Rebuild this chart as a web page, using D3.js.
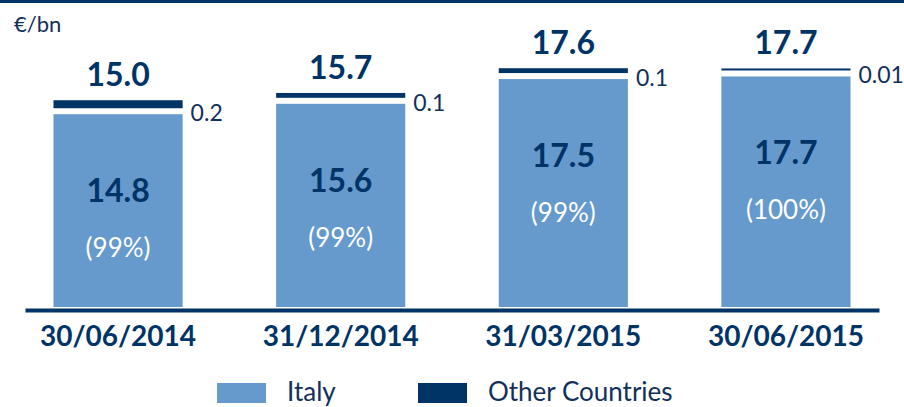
<!DOCTYPE html>
<html>
<head>
<meta charset="utf-8">
<script src="https://cdn.jsdelivr.net/npm/d3@7/dist/d3.min.js"></script>
<style>
  html, body { margin: 0; padding: 0; background: #fff; }
  svg { display: block; font-family: Lato, "Open Sans", "Noto Sans", sans-serif; }
</style>
</head>
<body>
<svg id="chart" width="904" height="407"></svg>
<script>
// Loans by geography, €/bn
const categories = ["30/06/2014", "31/12/2014", "31/03/2015", "30/06/2015"];
const italy = [14.8, 15.6, 17.5, 17.7];
const otherCountries = [0.2, 0.1, 0.1, 0.01];
const totals = [15.0, 15.7, 17.6, 17.7];
const italyShare = ["(99%)", "(99%)", "(99%)", "(100%)"];
const otherLabels = ["0.2", "0.1", "0.1", "0.01"];
const seriesNames = ["Italy", "Other Countries"];

const LIGHT = "#6699cc";
const NAVY = "#003366";
const TEXT = "#12305a";

const W = 904, H = 407;
const svg = d3.select("#chart");

// thin rule across the top
svg.append("rect").attr("x", 0).attr("y", 0).attr("width", W).attr("height", 3).attr("fill", NAVY);

svg.append("text")
  .attr("x", 14).attr("y", 32)
  .attr("font-size", 22).attr("fill", TEXT)
  .text("€/bn");

const x = d3.scaleBand()
  .domain(categories)
  .range([25, 879])
  .paddingInner(0.42)
  .paddingOuter(0.128);

const y = d3.scaleLinear().domain([0, 20]).range([307, 46.5]);

// thickness of the small "Other Countries" band on top of each bar
const thick = d3.scaleLinear().domain([0.01, 0.2]).range([2, 8]).clamp(true);
const GAP = 6;

const rows = categories.map((c, i) => ({
  c, italy: italy[i], other: otherCountries[i], total: totals[i],
  share: italyShare[i], otherLabel: otherLabels[i]
}));

const g = svg.append("g");

// Italy segment
g.selectAll("rect.italy").data(rows).join("rect")
  .attr("class", "italy")
  .attr("x", d => x(d.c))
  .attr("width", x.bandwidth())
  .attr("y", d => y(d.italy))
  .attr("height", d => y(0) - y(d.italy))
  .attr("fill", LIGHT);

// Other Countries segment
g.selectAll("rect.other").data(rows).join("rect")
  .attr("class", "other")
  .attr("x", d => x(d.c))
  .attr("width", x.bandwidth())
  .attr("y", d => y(d.italy) - GAP - thick(d.other))
  .attr("height", d => thick(d.other))
  .attr("fill", NAVY);

// totals above the bars
g.selectAll("text.total").data(rows).join("text")
  .attr("class", "total")
  .attr("x", d => x(d.c) + x.bandwidth() / 2)
  .attr("y", d => y(d.italy) - GAP - thick(d.other) - 14)
  .attr("text-anchor", "middle")
  .attr("font-size", 32).attr("font-weight", 700).attr("fill", NAVY)
  .text(d => d.total.toFixed(1));

// Other Countries value to the right of each bar
g.selectAll("text.otherv").data(rows).join("text")
  .attr("class", "otherv")
  .attr("x", d => x(d.c) + x.bandwidth() + 8)
  .attr("y", d => y(d.italy) + 7)
  .attr("font-size", 23).attr("fill", TEXT)
  .text(d => d.otherLabel);

// Italy value inside the bar
g.selectAll("text.italyv").data(rows).join("text")
  .attr("class", "italyv")
  .attr("x", d => x(d.c) + x.bandwidth() / 2)
  .attr("y", d => y(d.italy) + 88)
  .attr("text-anchor", "middle")
  .attr("font-size", 32).attr("font-weight", 700).attr("fill", NAVY)
  .text(d => d.italy.toFixed(1));

// Italy share inside the bar
g.selectAll("text.share").data(rows).join("text")
  .attr("class", "share")
  .attr("x", d => x(d.c) + x.bandwidth() / 2)
  .attr("y", d => y(d.italy) + 143)
  .attr("text-anchor", "middle")
  .attr("font-size", 26).attr("fill", "#ffffff")
  .text(d => d.share);

// category axis
const axis = svg.append("g")
  .attr("transform", `translate(0,${310})`)
  .call(d3.axisBottom(x).tickSize(0).tickSizeOuter(0).tickPadding(16));
axis.select(".domain").attr("stroke", NAVY).attr("stroke-width", 4);
axis.selectAll(".tick text")
  .attr("font-family", "Lato, 'Open Sans', sans-serif")
  .attr("font-size", 28).attr("font-weight", 700).attr("fill", NAVY);

// legend
const legendX = [217, 418];
const legendColors = [LIGHT, NAVY];
const lg = svg.append("g");
seriesNames.forEach((name, i) => {
  lg.append("rect")
    .attr("x", legendX[i]).attr("y", 383)
    .attr("width", 49).attr("height", 20)
    .attr("fill", legendColors[i]);
  lg.append("text")
    .attr("x", legendX[i] + 70).attr("y", 401)
    .attr("font-size", 26).attr("fill", TEXT)
    .text(name);
});
</script>
</body>
</html>
